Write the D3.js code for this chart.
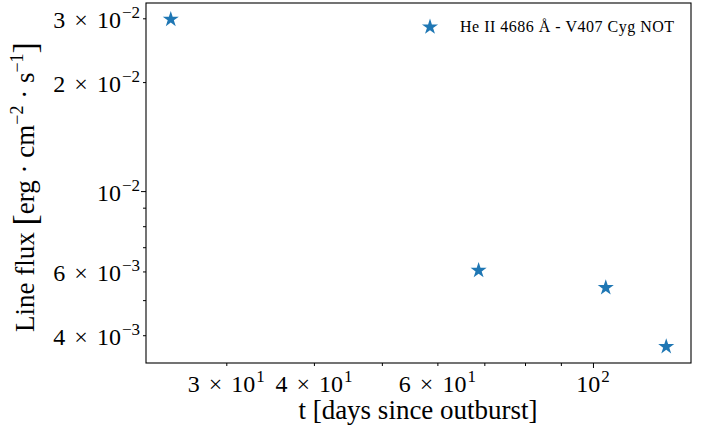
<!DOCTYPE html>
<html>
<head>
<meta charset="utf-8">
<script src="https://cdn.jsdelivr.net/npm/d3@7"></script>
<style>
  html, body { margin: 0; padding: 0; background: #fff; }
  svg { display: block; }
  text { font-family: "Liberation Serif", "DejaVu Serif", serif; fill: #000; }
</style>
</head>
<body>
<svg id="chart" width="708" height="429"></svg>
<script>
// ---- data ----
const days = [25.0, 68.7, 104.3, 127.2];
const flux = [0.0298, 0.00604, 0.00541, 0.00372];
const seriesName = "He II 4686 Å - V407 Cyg NOT";

// tick definitions
const xMajorTicks = [100];
const xMinorTicks = [30, 40, 50, 60, 70, 80, 90];
const xTickLabels = [
  { v: 30, mant: "3", exp: "1" },
  { v: 40, mant: "4", exp: "1" },
  { v: 60, mant: "6", exp: "1" },
  { v: 100, mant: null, exp: "2" }
];
const yMajorTicks = [0.01];
const yMinorTicks = [0.004, 0.005, 0.006, 0.007, 0.008, 0.009, 0.02, 0.03];
const yTickLabels = [
  { v: 0.03, mant: "3", exp: "−2" },
  { v: 0.02, mant: "2", exp: "−2" },
  { v: 0.01, mant: null, exp: "−2" },
  { v: 0.006, mant: "6", exp: "−3" },
  { v: 0.004, mant: "4", exp: "−3" }
];

// ---- layout ----
const margin = { left: 146, top: 3, right: 708 - 691, bottom: 429 - 363 };
const W = 708 - margin.left - margin.right;
const H = 429 - margin.top - margin.bottom;
const color = "#1f77b4";

function padLogDomain(arr) {
  const e = d3.extent(arr).map(Math.log10);
  const p = 0.05 * (e[1] - e[0]);
  return [Math.pow(10, e[0] - p), Math.pow(10, e[1] + p)];
}

const x = d3.scaleLog().domain(padLogDomain(days)).range([0, W]);
const y = d3.scaleLog().domain(padLogDomain(flux)).range([H, 0]);

const svg = d3.select("#chart");
const g = svg.append("g").attr("transform", `translate(${margin.left},${margin.top})`);

function styleAxis(sel) {
  sel.select(".domain").remove();
  sel.selectAll(".tick line").attr("stroke", "#000").attr("stroke-width", 1);
  sel.selectAll(".tick text").remove();
}
g.append("g").attr("transform", `translate(0,${H})`)
  .call(d3.axisBottom(x).tickValues(xMajorTicks).tickSize(5).tickFormat(""))
  .call(styleAxis);
g.append("g").attr("transform", `translate(0,${H})`)
  .call(d3.axisBottom(x).tickValues(xMinorTicks).tickSize(3).tickFormat(""))
  .call(styleAxis);
g.append("g")
  .call(d3.axisLeft(y).tickValues(yMajorTicks).tickSize(5).tickFormat(""))
  .call(styleAxis);
g.append("g")
  .call(d3.axisLeft(y).tickValues(yMinorTicks).tickSize(3).tickFormat(""))
  .call(styleAxis);

// tick labels in the form  m × 10^e
const tickFont = 24, supFont = 17;
function sciLabel(sel, t) {
  if (t.mant) {
    sel.append("tspan").text(t.mant);
    sel.append("tspan").attr("dx", 9).text("×");
    sel.append("tspan").attr("dx", 9).text("10");
  } else {
    sel.append("tspan").text("10");
  }
  sel.append("tspan").attr("dx", 1).attr("dy", -10).style("font-size", supFont + "px").text(t.exp);
}
xTickLabels.forEach(t => {
  const tx = g.append("text")
    .attr("x", x(t.v)).attr("y", H + 29)
    .attr("text-anchor", "middle")
    .style("font-size", tickFont + "px");
  sciLabel(tx, t);
});
yTickLabels.forEach(t => {
  const tx = g.append("text")
    .attr("x", -6).attr("y", y(t.v) + 10)
    .attr("text-anchor", "end")
    .style("font-size", tickFont + "px");
  sciLabel(tx, t);
});

// frame
g.append("rect").attr("x", 0).attr("y", 0).attr("width", W).attr("height", H)
  .attr("fill", "none").attr("stroke", "#000").attr("stroke-width", 1.1);

// points
const star = d3.symbol().type(d3.symbolStar).size(80);
g.selectAll("path.pt").data(days.map((d, i) => [d, flux[i]]))
  .enter().append("path").attr("class", "pt")
  .attr("d", star)
  .attr("transform", d => `translate(${x(d[0])},${y(d[1])})`)
  .attr("fill", color);

// legend
const lg = svg.append("g");
lg.append("path").attr("d", star).attr("fill", color)
  .attr("transform", "translate(430,27)");
lg.append("text").attr("x", 460).attr("y", 32)
  .style("font-size", "16px").style("letter-spacing", "0.5px").text(seriesName);

// axis labels
svg.append("text")
  .attr("x", 418).attr("y", 419)
  .attr("text-anchor", "middle")
  .style("font-size", "27px")
  .text("t [days since outburst]");

const yl = svg.append("text")
  .attr("transform", "translate(34,187) rotate(-90)")
  .attr("text-anchor", "middle")
  .style("font-size", "27px");
yl.append("tspan").text("Line flux ");
yl.append("tspan").style("font-size", "34px").attr("dy", 2).text("[");
yl.append("tspan").attr("dy", -2).text("erg · cm");
yl.append("tspan").attr("dy", -11).style("font-size", "18px").text("−2");
yl.append("tspan").attr("dy", 11).text(" · s");
yl.append("tspan").attr("dy", -11).style("font-size", "18px").text("−1");
yl.append("tspan").attr("dy", 13).style("font-size", "34px").text("]");
</script>
</body>
</html>
